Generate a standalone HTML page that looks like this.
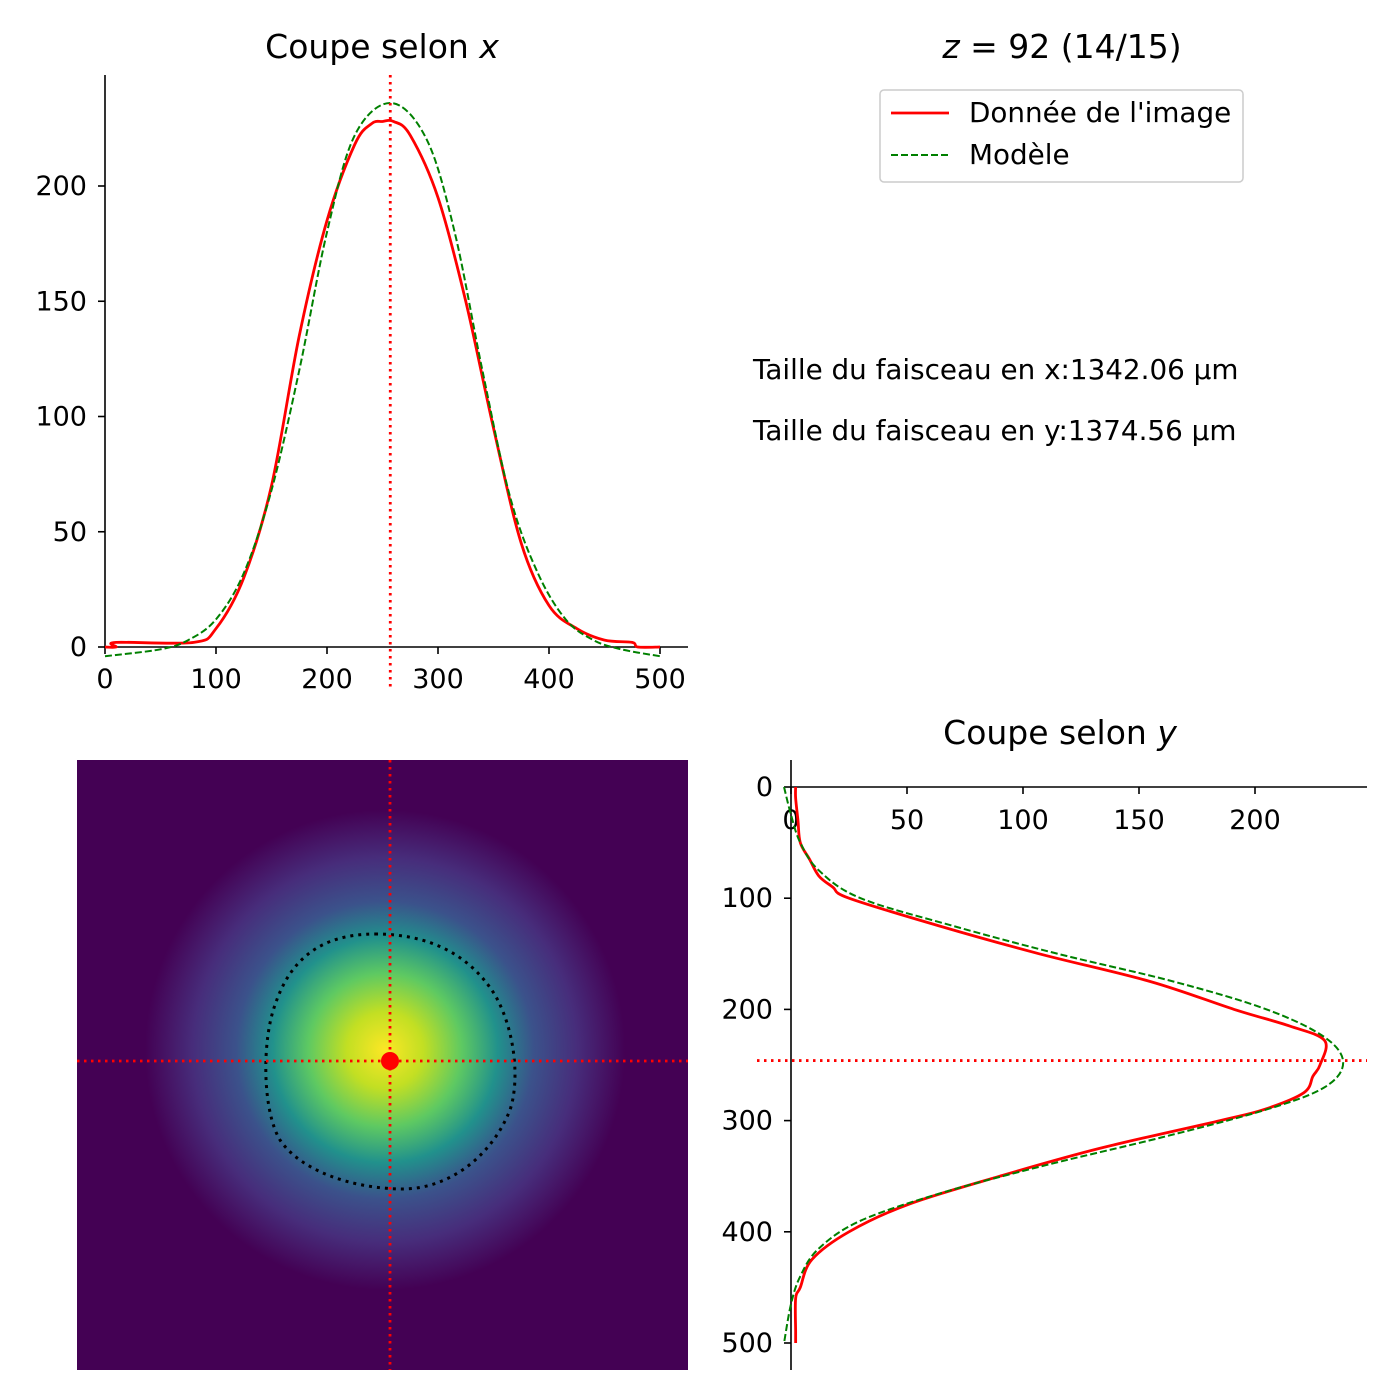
<!DOCTYPE html>
<html><head><meta charset="utf-8"><style>
html,body{margin:0;padding:0;background:#fff;}
svg{display:block;font-family:"DejaVu Sans","Liberation Sans",sans-serif;}
</style></head><body>
<svg id="fig" width="1400" height="1400" viewBox="0 0 1400 1400">
<defs>
<radialGradient id="beam" cx="385" cy="1050" r="240" gradientUnits="userSpaceOnUse">
<stop offset="0" stop-color="#fde725"/>
<stop offset="0.16" stop-color="#c2df23"/>
<stop offset="0.32" stop-color="#5ec962"/>
<stop offset="0.47" stop-color="#21918c"/>
<stop offset="0.62" stop-color="#3b528b"/>
<stop offset="0.8" stop-color="#472d7b"/>
<stop offset="1" stop-color="#440154"/>
</radialGradient>
</defs>
<g id="topx"></g>
<g id="img"></g>
<g id="righty"></g>
<g id="info"></g>
</svg>
<script>
const NS="http://www.w3.org/2000/svg";
function mk(p,t,a,txt){const e=document.createElementNS(NS,t);for(const k in a)e.setAttribute(k,a[k]);if(txt!==undefined)e.textContent=txt;p.appendChild(e);return e;}
function smooth(pts){let d='M'+pts[0][0]+' '+pts[0][1];for(let i=0;i<pts.length-1;i++){const p0=pts[Math.max(i-1,0)],p1=pts[i],p2=pts[i+1],p3=pts[Math.min(i+2,pts.length-1)];const c1=[p1[0]+(p2[0]-p0[0])/6,p1[1]+(p2[1]-p0[1])/6],c2=[p2[0]-(p3[0]-p1[0])/6,p2[1]-(p3[1]-p1[1])/6];d+='C'+c1[0]+' '+c1[1]+' '+c2[0]+' '+c2[1]+' '+p2[0]+' '+p2[1];}return d;}

// X cut data
const xPos=[0,10,10,80,100,125,150,175,200,225,240,250,260,275,300,325,350,375,400,425,450,475,480,500];
const xData=[0,0,2,2,8,30,70,135,185,218,227,228,228,222,195,150,95,45,18,8,3,2,0,0];
const xModelPos=[0,50,75,100,125,150,175,200,225,258,290,315,340,365,390,415,440,465,500];
const xModel=[-4,-1,3,12,32,68,120,180,222,236,220,180,120,65,32,12,3,-1,-4];
const xTicks=[0,100,200,300,400,500];
const yTicksTop=[0,50,100,150,200];
const xCenter=257;

// Y cut data
const yPos=[0,10,30,50,65,80,90,100,125,150,175,200,215,228,250,260,275,290,300,325,350,375,400,425,450,460,490,500];
const yData=[2,2,3,4,8,12,18,25,64,107,155,191,215,230,228,225,221,204,185,133,90,51,25,9,4,2,2,2];
const yModelPos=[0,25,50,75,100,125,150,175,200,225,248,270,290,315,340,365,390,415,440,465,500];
const yModel=[-3,0,4,12,30,70,115,165,205,230,238,230,205,160,110,65,30,12,4,0,-3];
const yTicksR=[0,100,200,300,400,500];
const xTicksR=[0,50,100,150,200];
const yCenter=246;

const FS=27, LS=27.8, TS=33;
// top axes
const tX=v=>105+v*1.11, tY=v=>647-v*2.305;
const g1=document.getElementById('topx');
const t1=mk(g1,'text',{x:382,y:58,'font-size':TS,'text-anchor':'middle',},'Coupe selon ');
mk(t1,'tspan',{'font-style':'italic'},'x');
mk(g1,'line',{x1:105,y1:75,x2:105,y2:647,stroke:'#000','stroke-width':1.6,});
mk(g1,'line',{x1:105,y1:647,x2:688,y2:647,stroke:'#000','stroke-width':1.6,});
xTicks.forEach(v=>{mk(g1,'line',{x1:tX(v),y1:647,x2:tX(v),y2:654,stroke:'#000','stroke-width':1.6});const t=mk(g1,'text',{x:tX(v),y:688,'font-size':FS,'text-anchor':'middle'},v);});
yTicksTop.forEach(v=>{mk(g1,'line',{x1:98,y1:tY(v),x2:105,y2:tY(v),stroke:'#000','stroke-width':1.6});const t=mk(g1,'text',{x:87,y:tY(v)+9,'font-size':FS,'text-anchor':'end'},v);});
mk(g1,'path',{d:smooth(xPos.map((v,i)=>[tX(v),tY(xData[i])])),fill:'none',stroke:'red','stroke-width':2.8,});
mk(g1,'path',{d:smooth(xModelPos.map((v,i)=>[tX(v),tY(xModel[i])])),fill:'none',stroke:'green','stroke-width':2,'stroke-dasharray':'7 3',});
mk(g1,'line',{x1:tX(xCenter),y1:75,x2:tX(xCenter),y2:688,stroke:'red','stroke-width':2.8,'stroke-dasharray':'2.5 4.5',});

// image
const g2=document.getElementById('img');
mk(g2,'rect',{x:77,y:760,width:611,height:610,fill:'#440154'});
mk(g2,'rect',{x:77,y:760,width:611,height:610,fill:'url(#beam)',});
mk(g2,'path',{d:'M375 934 C430 934 470 955 495 995 C515 1030 520 1080 510 1110 C490 1160 445 1190 400 1189 C350 1188 300 1170 280 1140 C262 1110 262 1040 275 1005 C290 960 320 934 375 934 Z',fill:'none',stroke:'#000','stroke-width':3,'stroke-dasharray':'3 5',});
mk(g2,'line',{x1:390,y1:760,x2:390,y2:1370,stroke:'red','stroke-width':2.8,'stroke-dasharray':'2.5 4.5',});
mk(g2,'line',{x1:77,y1:1061,x2:688,y2:1061,stroke:'red','stroke-width':2.8,'stroke-dasharray':'2.5 4.5',});
mk(g2,'circle',{cx:390,cy:1061,r:9,fill:'red',});

// right axes
const rX=v=>791+v*2.32, rY=v=>787+v*1.112;
const g3=document.getElementById('righty');
const tt=mk(g3,'text',{x:1060,y:744,'font-size':TS,'text-anchor':'middle',},'Coupe selon ');
mk(tt,'tspan',{'font-style':'italic'},'y');
mk(g3,'line',{x1:791,y1:760,x2:791,y2:1370,stroke:'#000','stroke-width':1.6,});
mk(g3,'line',{x1:791,y1:787,x2:1367,y2:787,stroke:'#000','stroke-width':1.6,});
xTicksR.forEach(v=>{mk(g3,'line',{x1:rX(v),y1:787,x2:rX(v),y2:794,stroke:'#000','stroke-width':1.6});const t=mk(g3,'text',{x:rX(v),y:829,'font-size':FS,'text-anchor':'middle'},v);});
yTicksR.forEach(v=>{mk(g3,'line',{x1:784,y1:rY(v),x2:791,y2:rY(v),stroke:'#000','stroke-width':1.6});const t=mk(g3,'text',{x:773,y:rY(v)+9,'font-size':FS,'text-anchor':'end'},v);});
mk(g3,'path',{d:smooth(yPos.map((v,i)=>[rX(yData[i]),rY(v)])),fill:'none',stroke:'red','stroke-width':2.8,});
mk(g3,'path',{d:smooth(yModelPos.map((v,i)=>[rX(yModel[i]),rY(v)])),fill:'none',stroke:'green','stroke-width':2,'stroke-dasharray':'7 3',});
mk(g3,'line',{x1:757,y1:rY(yCenter),x2:1367,y2:rY(yCenter),stroke:'red','stroke-width':2.8,'stroke-dasharray':'2.5 4.5',});

// info
const g4=document.getElementById('info');
const zt=mk(g4,'text',{x:1062,y:58,'font-size':TS,'text-anchor':'middle',});
mk(zt,'tspan',{'font-style':'italic'},'z');mk(zt,'tspan',{},' = 92 (14/15)');
mk(g4,'rect',{x:880,y:90,width:363,height:92,rx:4,fill:'#fff',stroke:'#ccc','stroke-width':1.5,});
mk(g4,'line',{x1:891,y1:113,x2:949,y2:113,stroke:'red','stroke-width':2.8});
mk(g4,'text',{x:969,y:122,'font-size':LS,},"Donnée de l'image");
mk(g4,'line',{x1:891,y1:155,x2:949,y2:155,stroke:'green','stroke-width':2,'stroke-dasharray':'7 3'});
mk(g4,'text',{x:969,y:164,'font-size':LS,},'Modèle');
mk(g4,'text',{x:753,y:379,'font-size':LS,},'Taille du faisceau en x:1342.06 µm');
mk(g4,'text',{x:753,y:440,'font-size':LS,},'Taille du faisceau en y:1374.56 µm');
</script>
</body></html>
